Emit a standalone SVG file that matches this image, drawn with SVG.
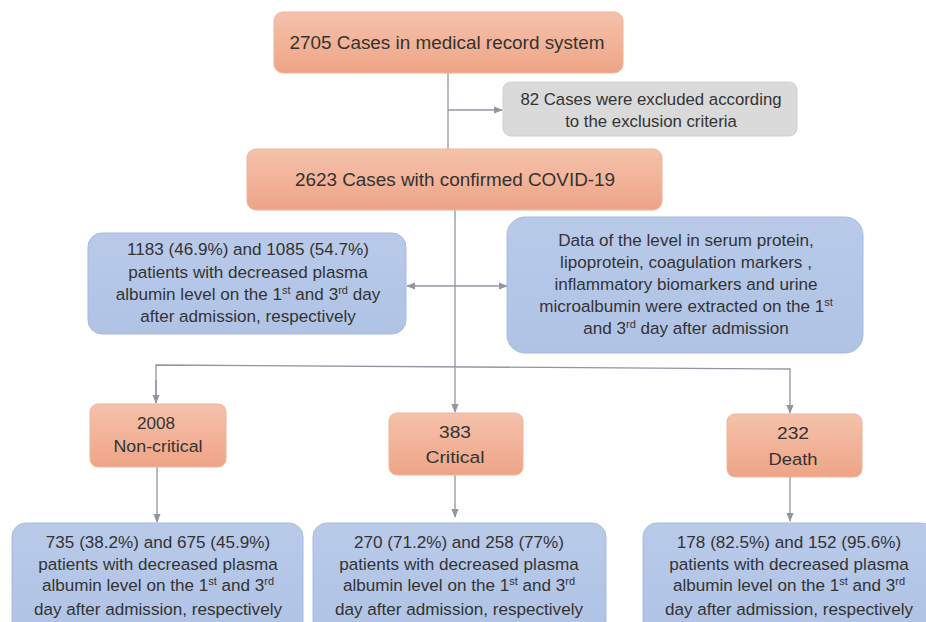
<svg xmlns="http://www.w3.org/2000/svg" width="926" height="622" viewBox="0 0 926 622">
<defs>
<linearGradient id="og" x1="0" y1="0" x2="0" y2="1"><stop offset="0" stop-color="#f5c2ab"/><stop offset="1" stop-color="#eea486"/></linearGradient>
<linearGradient id="bg" x1="0" y1="0" x2="0" y2="1"><stop offset="0" stop-color="#b9cae9"/><stop offset="1" stop-color="#b0c3e5"/></linearGradient>
<marker id="ah" viewBox="0 0 10 10" refX="9" refY="5" markerWidth="9" markerHeight="9" markerUnits="userSpaceOnUse" orient="auto-start-reverse"><path d="M0 1 L10 5 L0 9 Z" fill="#9095a0"/></marker>
</defs>
<style>
.o{fill:url(#og);stroke:#f0b49a;stroke-width:1}
.b{fill:url(#bg);stroke:#a7bbe0;stroke-width:1}
.g{fill:#dadada;stroke:#d0d0d0;stroke-width:1}
text{font-family:"Liberation Sans",Arial,sans-serif;fill:#333;text-anchor:middle}
.t18{font-size:18.9px}
.t16{font-size:16.8px}
.t17{font-size:17.1px}
.c{fill:none;stroke:#9095a0;stroke-width:1.3}
</style>
<rect width="926" height="622" fill="#fff"/>
<g id="connectors">
<path class="c" d="M448 73 V150"/>
<path class="c" d="M448 110 H502" marker-end="url(#ah)"/>
<path class="c" d="M455 210 V412" marker-end="url(#ah)"/>
<path class="c" d="M407 286 H507" marker-start="url(#ah)" marker-end="url(#ah)"/>
<path class="c" d="M156 403 V365 L790 369 V413" marker-end="url(#ah)"/>
<path class="c" d="M156 380 V403" marker-end="url(#ah)"/>
<path class="c" d="M157 467 V522" marker-end="url(#ah)"/>
<path class="c" d="M455 475 V517" marker-end="url(#ah)"/>
<path class="c" d="M790 477 V521" marker-end="url(#ah)"/>
</g>
<g id="n1"><rect class="o" x="274" y="12" width="349" height="61" rx="9"/><text class="t18" x="447" y="49">2705 Cases in medical record system</text></g>
<g id="n2"><rect class="g" x="503" y="82" width="294" height="54" rx="8"/><text class="t16" x="651" y="105">82 Cases were excluded according</text><text class="t16" x="651" y="127">to the exclusion criteria</text></g>
<g id="n3"><rect class="o" x="247" y="149" width="415" height="61" rx="9"/><text class="t18" x="455" y="186">2623 Cases with confirmed COVID-19</text></g>
<g id="n4"><rect class="b" x="88" y="233" width="318" height="101" rx="14"/>
<text class="t17" x="248" y="255">1183 (46.9%) and 1085 (54.7%)</text>
<text class="t17" x="248" y="278">patients with decreased plasma</text>
<text class="t17" x="248" y="300">albumin level on the 1<tspan dy="-6" font-size="11">st</tspan><tspan dy="6"> and 3</tspan><tspan dy="-6" font-size="11">rd</tspan><tspan dy="6"> day</tspan></text>
<text class="t17" x="248" y="322">after admission, respectively</text></g>
<g id="n5"><rect class="b" x="507" y="217" width="356" height="136" rx="18"/>
<text class="t17" x="686" y="246">Data of the level in serum protein,</text>
<text class="t17" x="686" y="268">lipoprotein, coagulation markers ,</text>
<text class="t17" x="686" y="290">inflammatory biomarkers and urine</text>
<text class="t17" x="686" y="312">microalbumin were extracted on the 1<tspan dy="-6" font-size="11">st</tspan></text>
<text class="t17" x="686" y="334">and 3<tspan dy="-6" font-size="11">rd</tspan><tspan dy="6"> day after admission</tspan></text></g>
<g id="n6"><rect class="o" x="90" y="404" width="136" height="63" rx="8"/><text class="t17" x="156" y="429" textLength="38" lengthAdjust="spacingAndGlyphs">2008</text><text class="t17" x="158" y="452" textLength="89" lengthAdjust="spacingAndGlyphs">Non-critical</text></g>
<g id="n7"><rect class="o" x="389" y="413" width="134" height="62" rx="8"/><text class="t17" x="455" y="438" textLength="32" lengthAdjust="spacingAndGlyphs">383</text><text class="t17" x="455" y="463" textLength="59" lengthAdjust="spacingAndGlyphs">Critical</text></g>
<g id="n8"><rect class="o" x="727" y="414" width="135" height="63" rx="8"/><text class="t17" x="793" y="439" textLength="32" lengthAdjust="spacingAndGlyphs">232</text><text class="t17" x="793" y="465" textLength="49" lengthAdjust="spacingAndGlyphs">Death</text></g>
<g id="n9"><rect class="b" x="12" y="523" width="291" height="115" rx="14"/>
<text class="t17" x="158" y="548">735 (38.2%) and 675 (45.9%)</text>
<text class="t17" x="158" y="570">patients with decreased plasma</text>
<text class="t17" x="158" y="591">albumin level on the 1<tspan dy="-6" font-size="11">st</tspan><tspan dy="6"> and 3</tspan><tspan dy="-6" font-size="11">rd</tspan></text>
<text class="t17" x="158" y="615">day after admission, respectively</text></g>
<g id="n10"><rect class="b" x="313" y="523" width="293" height="115" rx="14"/>
<text class="t17" x="459" y="548">270 (71.2%) and 258 (77%)</text>
<text class="t17" x="459" y="570">patients with decreased plasma</text>
<text class="t17" x="459" y="591">albumin level on the 1<tspan dy="-6" font-size="11">st</tspan><tspan dy="6"> and 3</tspan><tspan dy="-6" font-size="11">rd</tspan></text>
<text class="t17" x="459" y="615">day after admission, respectively</text></g>
<g id="n11"><rect class="b" x="643" y="523" width="292" height="115" rx="14"/>
<text class="t17" x="789" y="548">178 (82.5%) and 152 (95.6%)</text>
<text class="t17" x="789" y="570">patients with decreased plasma</text>
<text class="t17" x="789" y="591">albumin level on the 1<tspan dy="-6" font-size="11">st</tspan><tspan dy="6"> and 3</tspan><tspan dy="-6" font-size="11">rd</tspan></text>
<text class="t17" x="789" y="615">day after admission, respectively</text></g>
</svg>
